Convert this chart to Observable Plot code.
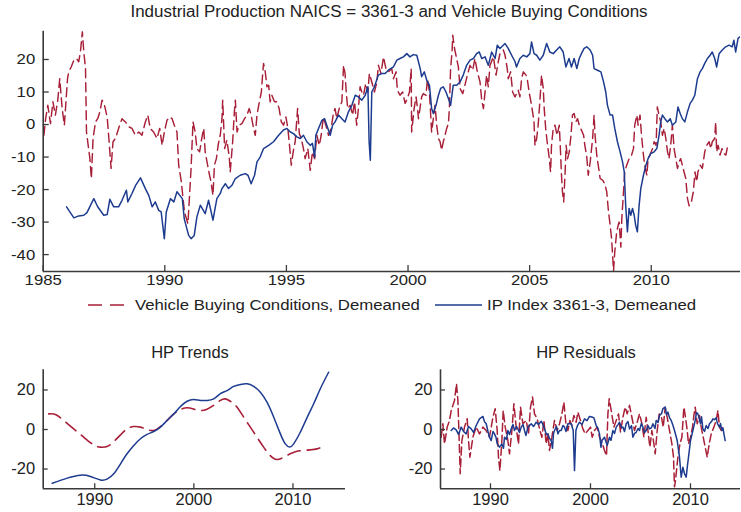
<!DOCTYPE html>
<html><head><meta charset="utf-8">
<script src="https://cdn.jsdelivr.net/npm/d3@7"></script>
<script src="https://cdn.jsdelivr.net/npm/@observablehq/plot@0.6"></script>
<style>
body{margin:0;background:#fff;}
#root{position:relative;width:741px;height:512px;font-family:"Liberation Sans",Arial,sans-serif;color:#222;overflow:hidden;}
.abs{position:absolute;}
.t{position:absolute;white-space:nowrap;line-height:1;}
.lt{position:absolute;white-space:nowrap;transform-origin:0 50%;transform:translateY(-50%) scaleX(1.08);line-height:1;font-size:15.5px;}
</style></head><body>
<div id="root">
  <div class="t" style="left:389px;top:12px;font-size:16px;transform:translate(-50%,-50%) scaleX(1.06)">Industrial Production NAICS = 3361-3 and Vehicle Buying Conditions</div>
  <div id="main" class="abs" style="left:0;top:0"></div>
  <svg class="abs" style="left:88px;top:300px" width="38" height="10"><line x1="0" x2="38" y1="5" y2="5" stroke="#a81f38" stroke-width="1.6" stroke-dasharray="14,8"/></svg>
  <div class="lt" style="left:135px;top:305px">Vehicle Buying Conditions, Demeaned</div>
  <svg class="abs" style="left:435px;top:300px" width="47" height="10"><line x1="0" x2="47" y1="5" y2="5" stroke="#1d3c8f" stroke-width="1.6"/></svg>
  <div class="lt" style="left:487px;top:305px">IP Index 3361-3, Demeaned</div>
  <div class="t" style="left:190px;top:352px;font-size:16.5px;transform:translate(-50%,-50%)">HP Trends</div>
  <div class="t" style="left:586px;top:352px;font-size:16.5px;transform:translate(-50%,-50%)">HP Residuals</div>
  <div id="trend" class="abs" style="left:0;top:360px"></div>
  <div id="resid" class="abs" style="left:370px;top:360px"></div>
</div>
<script>
const RED = "#a81f38";
const BLUE = "#1d3c8f";
const FONT = "'Liberation Sans', Arial, sans-serif";

// Tick values
const mainYears = [1985, 1990, 1995, 2000, 2005, 2010];
const mainYTicks = [-40, -30, -20, -10, 0, 10, 20];
const smallYears = [1990, 2000, 2010];
const smallYTicks = [-20, 0, 20];

// IP Index 3361-3, demeaned  [year, value]
const ipSeries = [
[1985.96,-25.3],[1986.26,-28.7],[1986.46,-28.1],[1986.67,-27.9],[1986.8,-27.1],[1987.08,-22.8],[1987.24,-25.3],[1987.49,-27.9],[1987.63,-27.7],[1987.74,-23.0],[1987.9,-25.3],[1988.1,-25.3],[1988.24,-23.3],[1988.42,-20.2],[1988.48,-23.8],[1988.65,-21.2],[1988.8,-18.7],[1989.0,-16.4],[1989.2,-19.7],[1989.34,-21.8],[1989.48,-25.3],[1989.61,-23.8],[1989.75,-26.4],[1989.85,-26.9],[1989.98,-35.1],[1990.06,-26.9],[1990.23,-22.8],[1990.37,-23.8],[1990.5,-20.7],[1990.72,-22.8],[1990.8,-29],[1990.98,-34.1],[1991.08,-35.1],[1991.21,-34.1],[1991.32,-28.4],[1991.46,-24.8],[1991.66,-27.4],[1991.8,-23.3],[1991.98,-29.4],[1992.14,-22.8],[1992.28,-21.2],[1992.35,-19.7],[1992.49,-18.2],[1992.62,-19.7],[1992.76,-18.7],[1992.9,-16.6],[1993.1,-15.6],[1993.31,-15.1],[1993.42,-15.6],[1993.55,-18.2],[1993.69,-15.6],[1993.79,-11.5],[1993.92,-10],[1994.06,-7.4],[1994.27,-6.4],[1994.47,-5.3],[1994.68,-3.3],[1994.88,-1.7],[1995.02,-1.2],[1995.16,-2.3],[1995.29,-2.8],[1995.43,-3.8],[1995.57,-4.3],[1995.7,-3.3],[1995.84,-5.3],[1995.98,-6.4],[1996.07,-5.8],[1996.16,-10],[1996.21,-3.3],[1996.32,-1.2],[1996.46,1.3],[1996.57,1.8],[1996.66,-0.2],[1996.8,-3.3],[1996.9,-0.2],[1997.0,0.8],[1997.14,2.9],[1997.28,1.8],[1997.41,0.8],[1997.55,3.9],[1997.69,5.9],[1997.83,9],[1997.96,8.5],[1998.1,7.5],[1998.24,9],[1998.35,11.6],[1998.4,-5.3],[1998.45,-11],[1998.51,10],[1998.62,11.6],[1998.78,15.2],[1998.92,15.7],[1999.06,15.7],[1999.19,16.7],[1999.4,17.7],[1999.54,19.8],[1999.67,20.3],[1999.81,20.8],[1999.95,21.8],[2000.08,20.8],[2000.22,21.5],[2000.36,21.3],[2000.5,17.2],[2000.56,14.7],[2000.67,16.2],[2000.77,13.6],[2000.88,12.1],[2000.97,4.9],[2001.04,3.4],[2001.15,5.9],[2001.25,9],[2001.34,11.1],[2001.45,11.6],[2001.56,10],[2001.66,8],[2001.75,5.9],[2001.86,12.1],[2002.0,12.1],[2002.14,13.1],[2002.27,15.2],[2002.41,18.2],[2002.55,19.8],[2002.69,20.3],[2002.82,21.8],[2002.93,22.3],[2003.03,20.3],[2003.17,20.8],[2003.3,18.2],[2003.44,22.3],[2003.58,20.3],[2003.67,24.4],[2003.78,23.4],[2003.99,24.9],[2004.12,23.4],[2004.26,21.3],[2004.4,19.3],[2004.46,17.7],[2004.6,20.3],[2004.74,21.3],[2004.88,20.8],[2005.01,21.8],[2005.08,25.4],[2005.18,21.8],[2005.29,21.3],[2005.42,19.8],[2005.56,21.3],[2005.7,24.9],[2005.83,22.3],[2005.97,21.8],[2006.11,22.9],[2006.24,23.9],[2006.38,22.3],[2006.49,17.7],[2006.62,20.3],[2006.72,17.7],[2006.83,20.3],[2006.94,17.2],[2007.04,20.3],[2007.13,21.8],[2007.24,23.4],[2007.35,23.9],[2007.49,22.9],[2007.59,21.3],[2007.65,17.2],[2007.79,16.7],[2007.93,16.2],[2008.04,13.1],[2008.13,10],[2008.2,5.9],[2008.31,2.9],[2008.41,2.9],[2008.5,-1.2],[2008.61,-5.3],[2008.72,-8.4],[2008.82,-11.5],[2008.89,-14.6],[2008.95,-25],[2009.02,-33],[2009.09,-25.8],[2009.16,-27.9],[2009.23,-25.8],[2009.3,-27.9],[2009.36,-31],[2009.43,-33],[2009.5,-25],[2009.57,-19.7],[2009.68,-15.6],[2009.78,-12.5],[2009.87,-10.5],[2009.98,-8.9],[2010.12,-8.4],[2010.23,-7.4],[2010.32,-3.3],[2010.39,0.8],[2010.46,2.9],[2010.56,1.8],[2010.67,0.8],[2010.78,1.8],[2010.87,-0.2],[2011.01,0.8],[2011.1,5.4],[2011.19,3.4],[2011.28,1.8],[2011.38,0.8],[2011.49,3.9],[2011.6,6.5],[2011.69,7.5],[2011.79,9],[2011.9,14.1],[2012.01,16.2],[2012.1,17.2],[2012.2,18.8],[2012.31,20.3],[2012.42,21.3],[2012.51,22.3],[2012.61,20.3],[2012.69,17.7],[2012.79,21.8],[2012.92,22.9],[2013.06,23.9],[2013.2,24.4],[2013.33,23.9],[2013.4,25.9],[2013.47,22.3],[2013.57,26.5],[2013.65,27]
];

// Vehicle Buying Conditions, demeaned  [year, value]
const vbcSeries = [
[1985.03,-3.3],[1985.1,1.8],[1985.19,5.9],[1985.3,0.3],[1985.4,7],[1985.5,2.9],[1985.6,7.5],[1985.68,14.1],[1985.78,4.9],[1985.87,-0.2],[1986.0,14.1],[1986.05,16.2],[1986.15,17.7],[1986.26,19.8],[1986.37,20.3],[1986.46,19.3],[1986.53,22.3],[1986.61,28.5],[1986.67,22.3],[1986.74,17.2],[1986.78,-2.3],[1986.92,-10.5],[1986.98,-16.6],[1987.05,-4.3],[1987.15,0.8],[1987.24,1.8],[1987.33,3.9],[1987.42,7.5],[1987.52,5.9],[1987.63,2.3],[1987.7,-4.3],[1987.79,-13.5],[1987.87,-5.3],[1987.97,-4.3],[1988.1,-1.2],[1988.24,1.8],[1988.38,0.8],[1988.52,-0.7],[1988.65,-1.2],[1988.79,-3.3],[1988.93,-2.3],[1989.06,-3.3],[1989.2,0.8],[1989.3,2.9],[1989.4,-1.2],[1989.54,-2.3],[1989.68,-4.3],[1989.79,-1.2],[1989.89,-6.4],[1989.98,-2.3],[1990.09,1.3],[1990.2,2.3],[1990.3,1.8],[1990.39,-0.2],[1990.5,-2.3],[1990.57,-12.5],[1990.68,-17.6],[1990.75,-22.8],[1990.81,-26.9],[1990.95,-30.5],[1991.01,-22.8],[1991.08,-13.5],[1991.16,0.8],[1991.25,-2.3],[1991.32,-7.4],[1991.43,-8.4],[1991.53,-3.8],[1991.6,-1.2],[1991.66,-8.4],[1991.76,-12.5],[1991.84,-15.6],[1991.9,-17.6],[1991.98,-21.8],[1992.04,-12.5],[1992.12,-10.5],[1992.2,-6],[1992.28,-3.3],[1992.35,1.8],[1992.38,7.5],[1992.46,-7.4],[1992.55,-4.8],[1992.65,-10],[1992.69,-14.6],[1992.79,-5.3],[1992.86,3.9],[1992.9,7.5],[1992.97,-2.3],[1993.06,-0.2],[1993.17,0.3],[1993.28,1.8],[1993.38,2.9],[1993.47,4.9],[1993.55,2.9],[1993.65,-1.2],[1993.72,-3.3],[1993.79,2.9],[1993.86,5.9],[1993.97,10],[1994.02,15.2],[1994.06,18.8],[1994.13,16.2],[1994.2,11.6],[1994.27,12.1],[1994.33,7],[1994.4,9],[1994.51,7],[1994.61,7],[1994.7,4.9],[1994.79,0.8],[1994.88,-0.2],[1994.98,2.3],[1995.06,-1.2],[1995.12,-5.8],[1995.2,-12.5],[1995.29,-7.9],[1995.36,-5.3],[1995.46,4.9],[1995.53,-2.8],[1995.61,-4.3],[1995.7,-7.4],[1995.77,-10.5],[1995.88,-7.4],[1995.98,-14.1],[1996.07,-8.4],[1996.16,-10.5],[1996.25,-3.3],[1996.35,-6.4],[1996.43,-3.3],[1996.52,2.3],[1996.62,-0.2],[1996.73,-3.3],[1996.84,-1.2],[1996.93,3.4],[1997.0,4.9],[1997.07,1.8],[1997.17,4.9],[1997.28,7],[1997.35,18.2],[1997.41,15.7],[1997.46,10],[1997.52,4.9],[1997.62,5.9],[1997.72,2.9],[1997.8,7],[1997.89,-0.2],[1997.96,4.9],[1998.03,11.6],[1998.1,10],[1998.17,9],[1998.26,12.6],[1998.35,10],[1998.41,15.7],[1998.51,13.1],[1998.62,10],[1998.72,13.1],[1998.78,18.2],[1998.89,15.7],[1998.99,20.8],[1999.09,17.2],[1999.2,16.2],[1999.33,17.2],[1999.4,14.1],[1999.51,16.2],[1999.56,10.6],[1999.67,9],[1999.78,10],[1999.88,6.5],[1999.97,8],[2000.06,10],[2000.13,17.2],[2000.15,-2.3],[2000.25,4.9],[2000.33,8.5],[2000.39,4.9],[2000.43,1.8],[2000.56,8.5],[2000.63,9.5],[2000.74,9],[2000.8,14.1],[2000.88,10],[2000.97,-2.3],[2001.04,1.8],[2001.11,5.9],[2001.18,-0.2],[2001.25,-4.3],[2001.32,-5.3],[2001.38,-7.9],[2001.45,-5.3],[2001.52,-3.3],[2001.59,-1.2],[2001.66,0.3],[2001.7,4.9],[2001.75,17.2],[2001.81,22.3],[2001.84,27.5],[2001.9,23.9],[2001.97,21.3],[2002.07,17.7],[2002.14,11.1],[2002.25,9.5],[2002.34,12.1],[2002.44,15.2],[2002.55,18.2],[2002.66,16.7],[2002.75,20.3],[2002.85,16.2],[2002.96,13.1],[2003.03,7.5],[2003.1,4.9],[2003.16,9.5],[2003.23,15.2],[2003.3,11.6],[2003.37,18.2],[2003.51,20.8],[2003.62,15.2],[2003.71,19.3],[2003.78,21.8],[2003.92,22.9],[2003.99,21.3],[2004.08,17.2],[2004.12,14.1],[2004.22,16.2],[2004.3,10],[2004.4,8.5],[2004.53,10.6],[2004.6,8.5],[2004.67,14.1],[2004.74,16.2],[2004.85,15.2],[2004.9,14.1],[2004.98,10],[2005.08,5.9],[2005.12,3.9],[2005.18,0.8],[2005.22,-6.4],[2005.29,-4.3],[2005.35,-0.2],[2005.42,7],[2005.49,15.2],[2005.56,11.1],[2005.6,4.9],[2005.66,-1.2],[2005.72,-5.3],[2005.81,-10.5],[2005.86,-14.6],[2005.9,-6.4],[2005.97,-1.2],[2006.04,-0.2],[2006.13,-3.3],[2006.22,-0.2],[2006.27,-8.4],[2006.31,-15.6],[2006.35,-20.7],[2006.4,-23.8],[2006.46,-14.6],[2006.5,-6.4],[2006.56,-10.5],[2006.63,-8.4],[2006.7,-3.3],[2006.76,2.9],[2006.83,3.4],[2006.9,0.8],[2006.97,1.8],[2007.04,-0.2],[2007.1,-1.2],[2007.22,-3.3],[2007.27,-6.4],[2007.35,-10],[2007.41,-15.6],[2007.49,-11.5],[2007.59,-4.3],[2007.65,2.9],[2007.69,-3.3],[2007.76,-9.4],[2007.82,-12.5],[2007.9,-16.6],[2008.0,-17.1],[2008.09,-18.2],[2008.17,-20.7],[2008.23,-25.8],[2008.31,-31],[2008.37,-35.1],[2008.42,-41.2],[2008.45,-45],[2008.5,-39.2],[2008.58,-33],[2008.64,-31],[2008.68,-30],[2008.75,-37.7],[2008.79,-28.9],[2008.86,-20.7],[2008.91,-14.6],[2008.99,-12.5],[2009.09,-10.5],[2009.19,-9.4],[2009.27,-7.4],[2009.32,-0.2],[2009.41,2.9],[2009.46,-0.2],[2009.54,2.9],[2009.6,-3.3],[2009.68,-9.4],[2009.73,-12.5],[2009.82,-15.6],[2009.87,-10.5],[2009.95,-9.4],[2010.05,-7.4],[2010.12,-5.3],[2010.2,-6.4],[2010.25,5.4],[2010.32,2.9],[2010.39,0.8],[2010.46,-3.3],[2010.53,-1.2],[2010.6,-4.3],[2010.67,-8.4],[2010.73,-10.5],[2010.8,-6.4],[2010.87,-0.2],[2010.94,-7.4],[2011.01,-10.5],[2011.08,-13.5],[2011.15,-11.5],[2011.21,-10.5],[2011.28,-12.5],[2011.35,-14.6],[2011.42,-16.6],[2011.49,-22.8],[2011.56,-25],[2011.65,-23.8],[2011.73,-20.7],[2011.8,-14.6],[2011.87,-17.6],[2011.92,-14.6],[2012.01,-12.5],[2012.1,-13.5],[2012.2,-8.4],[2012.28,-6.4],[2012.38,-5.3],[2012.45,-7.4],[2012.51,-5.3],[2012.61,-4.3],[2012.65,0.8],[2012.69,-8.4],[2012.75,-6.4],[2012.83,-9.4],[2012.91,-7.4],[2012.99,-8.9],[2013.07,-9.4],[2013.16,-5.8]
];

// HP trends  [year, value]
const ipTrend = [
[1985.71,-27.2],[1987.22,-24.6],[1988.56,-23.1],[1989.57,-23.8],[1990.57,-25.5],[1991.24,-25.1],[1991.92,-22.4],[1992.6,-17.4],[1993.26,-12.3],[1993.94,-8.1],[1994.61,-4.7],[1995.28,-2.5],[1995.96,-1.0],[1996.63,1.2],[1997.3,4.6],[1997.98,7.9],[1998.65,11.6],[1999.32,14.3],[1999.99,15.2],[2000.66,14.7],[2001.33,14.7],[2002.0,15.5],[2002.68,18.1],[2003.35,19.7],[2004.02,21.8],[2004.7,22.8],[2005.37,23.1],[2006.04,21.8],[2006.71,18.9],[2007.38,13.8],[2008.06,6.2],[2008.73,-2.2],[2009.23,-7.3],[2009.67,-8.9],[2010.07,-7.3],[2010.74,-1.4],[2011.41,5.9],[2012.09,13],[2012.76,20.6],[2013.6,29]
];
const vbcTrend = [
[1985.36,7.9],[1986.03,7.6],[1986.87,4.6],[1987.88,0.3],[1988.89,-3.9],[1989.9,-7.8],[1990.57,-8.9],[1991.24,-8.6],[1991.92,-6.1],[1992.6,-2.7],[1993.26,0.3],[1993.94,1.5],[1994.61,1.2],[1995.28,0],[1995.96,-0.5],[1996.63,1.5],[1997.3,4.6],[1997.98,7.9],[1998.65,10.1],[1999.32,11],[1999.99,10.3],[2000.66,9.6],[2001.33,10.3],[2002.0,12.2],[2002.68,14.7],[2003.18,15.5],[2003.68,14.3],[2004.36,11.3],[2005.03,6.2],[2005.7,1.2],[2006.37,-3.9],[2007.04,-8.9],[2007.71,-13.2],[2008.39,-15.2],[2009.06,-14],[2009.73,-12.3],[2010.4,-11],[2011.07,-10.6],[2011.74,-10.3],[2012.42,-9.8],[2013.26,-8.1]
];

// HP residuals  [year, value]
const ipResid = [
[1986.07,-0.5],[1986.3,0.8],[1986.57,-0.2],[1986.8,-2.5],[1987.07,1.2],[1987.3,-1],[1987.57,-2.2],[1987.8,1.5],[1988.07,0.3],[1988.3,-1.5],[1988.57,2],[1988.9,5.4],[1989.24,6.6],[1989.4,4],[1989.57,2.9],[1989.75,-1],[1989.9,-3.9],[1990.07,-5.6],[1990.25,-1],[1990.4,-2.2],[1990.55,-4],[1990.67,-7.3],[1990.9,-8.9],[1991.14,-7.3],[1991.3,-9.5],[1991.4,-3.9],[1991.6,-5],[1991.74,-0.5],[1991.9,-2.5],[1992.07,0.3],[1992.25,2.5],[1992.4,-0.5],[1992.6,1.5],[1992.74,0.3],[1992.9,-1.5],[1993.07,1.2],[1993.25,2.5],[1993.4,-0.5],[1993.55,-3],[1993.74,1.2],[1994.07,2.9],[1994.3,1.5],[1994.57,3.7],[1994.8,2.5],[1995.07,4.2],[1995.25,2.5],[1995.4,0.3],[1995.6,-2.5],[1995.74,-2.2],[1995.9,-4.5],[1996.07,-5.6],[1996.2,-9.5],[1996.3,-2],[1996.4,-0.5],[1996.6,1.5],[1996.74,-2.2],[1996.9,-0.5],[1997.07,-0.5],[1997.25,2],[1997.4,1.2],[1997.55,-1],[1997.74,2.9],[1998.07,2.9],[1998.27,-0.5],[1998.4,-20.8],[1998.54,-0.5],[1998.7,2],[1998.9,3.7],[1999.15,2.5],[1999.4,5.4],[1999.65,4.5],[1999.9,6.6],[2000.15,6.3],[2000.34,5.9],[2000.57,2],[2000.75,0.5],[2000.9,-2.2],[2001.04,-9],[2001.14,-5.6],[2001.4,-3.9],[2001.67,-8.1],[2001.9,-3.9],[2002.05,-5.5],[2002.24,-0.5],[2002.4,-2],[2002.57,1.2],[2002.75,2.5],[2002.9,3.7],[2003.1,1],[2003.24,1.2],[2003.4,-1],[2003.57,2.9],[2003.75,4],[2003.9,0.3],[2004.1,2],[2004.24,-3.9],[2004.4,-2],[2004.57,-1.4],[2004.75,0.5],[2004.9,-0.5],[2005.08,3],[2005.24,1.2],[2005.4,-1.5],[2005.57,-0.5],[2005.75,2],[2005.9,0.3],[2006.1,1],[2006.24,2.9],[2006.45,0.5],[2006.57,4.6],[2006.75,3.5],[2006.9,7.1],[2007.1,8],[2007.24,10.5],[2007.47,11.3],[2007.6,7.5],[2007.74,8.8],[2007.9,6],[2008.07,4.6],[2008.25,2],[2008.4,-0.5],[2008.67,-5.6],[2008.9,-14],[2009.07,-24.1],[2009.24,-19.1],[2009.4,-22.4],[2009.57,-24.1],[2009.7,-18],[2009.8,-14],[2010.0,-5.6],[2010.24,-0.5],[2010.47,4.6],[2010.6,8.5],[2010.74,7.9],[2010.9,5],[2011.0,2.9],[2011.1,6.5],[2011.24,0.3],[2011.4,-1],[2011.57,2],[2011.75,0.5],[2011.9,2.9],[2012.1,4],[2012.24,5.4],[2012.4,5],[2012.57,5.9],[2012.7,3],[2012.9,1.2],[2013.0,3],[2013.14,-0.5],[2013.25,0.8],[2013.34,-2.2],[2013.47,-5.6]
];
const vbcResid = [
[1985.07,-3.9],[1985.24,2.9],[1985.4,-7.3],[1985.67,1.2],[1985.9,4.6],[1986.07,9.6],[1986.24,12.2],[1986.4,14.7],[1986.6,23.1],[1986.74,14.7],[1986.87,-5.6],[1986.97,-22.4],[1987.14,-5.6],[1987.4,1.2],[1987.67,5.4],[1987.8,-5.6],[1987.94,-14],[1988.24,-3.9],[1988.57,1.2],[1988.9,-2.2],[1989.24,1.2],[1989.57,-0.5],[1989.9,-3.9],[1990.24,6.2],[1990.47,10.5],[1990.67,-0.5],[1990.8,-14],[1990.94,-20.8],[1991.14,-5.6],[1991.27,9.6],[1991.47,1.2],[1991.74,-5.6],[1991.9,-12.3],[1992.14,-0.5],[1992.34,13],[1992.57,1.2],[1992.8,-7.3],[1993.0,11.3],[1993.24,2.9],[1993.57,4.6],[1993.8,-2.2],[1994.0,11.3],[1994.2,16.4],[1994.4,7.9],[1994.67,5.4],[1994.9,0.3],[1995.14,-3.9],[1995.34,4.6],[1995.57,-7.3],[1995.74,-2.2],[1995.9,-10.6],[1996.14,-3.9],[1996.4,4.6],[1996.67,-0.5],[1996.9,2.9],[1997.14,7.9],[1997.34,13.8],[1997.54,2.9],[1997.74,-0.5],[1997.94,4.6],[1998.14,2],[1998.34,7.1],[1998.57,3.7],[1998.74,8.8],[1999.0,4.6],[1999.24,0.3],[1999.47,-2.2],[1999.74,-0.5],[2000.0,1.2],[2000.17,-3.9],[2000.4,-0.5],[2000.67,1.2],[2000.9,-3.9],[2001.14,-6.4],[2001.4,-10.6],[2001.6,-13.2],[2001.74,7.9],[2001.87,15.5],[2002.07,9.6],[2002.34,1.2],[2002.57,4.6],[2002.8,7.9],[2003.0,-1.4],[2003.24,6.2],[2003.47,11.3],[2003.67,7.9],[2003.9,12.2],[2004.14,6.2],[2004.4,-0.5],[2004.67,3.7],[2004.9,7.9],[2005.14,2.9],[2005.34,-3.9],[2005.57,6.2],[2005.74,-0.5],[2005.94,-8.9],[2006.14,-0.5],[2006.34,-7.3],[2006.47,-12.3],[2006.67,-0.5],[2006.87,7.9],[2007.07,7.1],[2007.27,1.2],[2007.47,11.3],[2007.67,6.2],[2007.9,-0.5],[2008.14,-7.3],[2008.3,-14],[2008.4,-29],[2008.5,-25.8],[2008.6,-20.8],[2008.74,-14],[2008.94,-7.3],[2009.14,-3.9],[2009.34,11.3],[2009.5,6.2],[2009.67,-0.5],[2009.8,-7.3],[2010.0,-3.9],[2010.2,1.2],[2010.34,7.1],[2010.47,11.3],[2010.67,2.9],[2010.9,7.1],[2011.07,1.2],[2011.27,-3.9],[2011.47,-8.9],[2011.67,-14],[2011.87,-7.3],[2012.07,-2.2],[2012.34,1.2],[2012.57,4.6],[2012.74,9.6],[2012.9,1.2],[2013.07,-0.5],[2013.24,2]
];

const toObj = (arr) => arr.map(([t, v]) => ({t, v}));
const fmtYear = d => String(d);
const AXIS = "#3a3a3a";

function axesMarks(xTicks, yTicks, xMin, yMin, opts) {
  return [
    Plot.ruleX([xMin], {stroke: AXIS, strokeWidth: 1.6}),
    Plot.ruleY([yMin], {stroke: AXIS, strokeWidth: 1.6}),
    Plot.axisX(xTicks, {label: null, tickSize: -opts.tick, tickPadding: opts.xPad, tickFormat: fmtYear, stroke: AXIS, strokeWidth: 1.3, fill: "#222"}),
    Plot.axisY(yTicks, {label: null, tickSize: -opts.tick, tickPadding: opts.yPad, tickFormat: d => String(d), stroke: AXIS, strokeWidth: 1.3, fill: "#222"})
  ];
}
// widen tick label glyphs slightly, as in the reference
function stretchLabels(svg, k) {
  d3.select(svg).selectAll("g[aria-label$='tick label'] text").attr("transform", function() {
    return (this.getAttribute("transform") || "") + ` scale(${k},1)`;
  });
  return svg;
}

const mainX = [1985, 2013.67], mainY = [-45.2, 28.7];
const main = Plot.plot({
  width: 741, height: 290,
  marginLeft: 42.7, marginRight: 1, marginTop: 30.7, marginBottom: 19,
  x: {domain: mainX, axis: null},
  y: {domain: mainY, axis: null},
  style: {fontSize: "15.5px", fontFamily: FONT, color: "#222", background: "transparent", overflow: "visible"},
  marks: [
    Plot.line(toObj(vbcSeries), {x: "t", y: "v", stroke: RED, strokeWidth: 1.45, strokeDasharray: "9,5", clip: true}),
    Plot.line(toObj(ipSeries), {x: "t", y: "v", stroke: BLUE, strokeWidth: 1.5, clip: true}),
    ...axesMarks(mainYears, mainYTicks, mainX[0], mainY[0], {tick: 6, xPad: 8, yPad: 14})
  ]
});
document.getElementById("main").append(stretchLabels(main, 1.08));

const trendX = [1984.8, 2015.3], smallY = [-30, 30.2];
const trend = Plot.plot({
  width: 360, height: 150,
  marginLeft: 42.7, marginRight: 15, marginTop: 9.3, marginBottom: 21.7,
  x: {domain: trendX, axis: null},
  y: {domain: smallY, axis: null},
  style: {fontSize: "16.5px", fontFamily: FONT, color: "#222", background: "transparent", overflow: "visible"},
  marks: [
    Plot.line(toObj(vbcTrend), {x: "t", y: "v", stroke: RED, strokeWidth: 1.6, strokeDasharray: "13,7", curve: "natural"}),
    Plot.line(toObj(ipTrend), {x: "t", y: "v", stroke: BLUE, strokeWidth: 1.5, curve: "natural"}),
    ...axesMarks(smallYears, smallYTicks, trendX[0], smallY[0], {tick: 5, xPad: 9, yPad: 13})
  ]
});
document.getElementById("trend").append(trend);

const residX = [1985, 2015];
const resid = Plot.plot({
  width: 371, height: 150,
  marginLeft: 70, marginRight: 1, marginTop: 9.3, marginBottom: 21.7,
  x: {domain: residX, axis: null},
  y: {domain: smallY, axis: null},
  style: {fontSize: "16.5px", fontFamily: FONT, color: "#222", background: "transparent", overflow: "visible"},
  marks: [
    Plot.line(toObj(vbcResid), {x: "t", y: "v", stroke: RED, strokeWidth: 1.5, strokeDasharray: "8,4", clip: true}),
    Plot.line(toObj(ipResid), {x: "t", y: "v", stroke: BLUE, strokeWidth: 1.5, clip: true}),
    ...axesMarks(smallYears, smallYTicks, residX[0], smallY[0], {tick: 5, xPad: 9, yPad: 13})
  ]
});
document.getElementById("resid").append(resid);
</script>
</body></html>
